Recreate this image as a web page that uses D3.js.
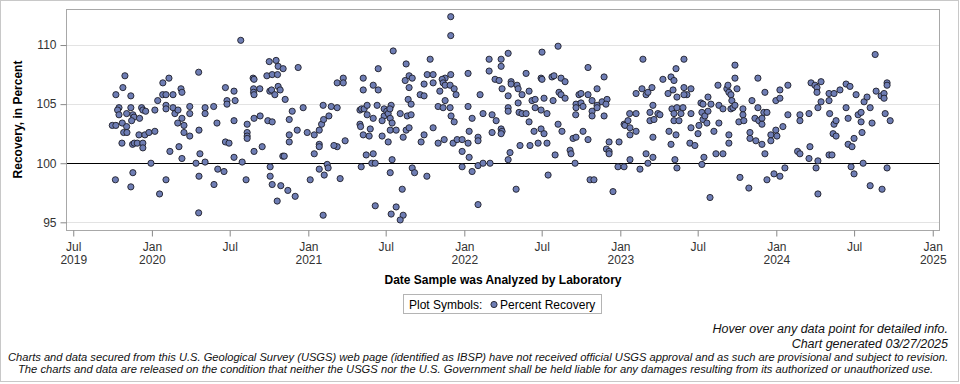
<!DOCTYPE html>
<html>
<head>
<meta charset="utf-8">
<script src="https://cdn.jsdelivr.net/npm/d3@7"></script>
<style>
  body { margin: 0; background: #fff; }
  svg { display: block; font-family: "Liberation Sans", Arial, sans-serif; }
</style>
</head>
<body>
<div id="chart"></div>
<script>
// sample analysis dates, as decimal years
const sampleDates = [
  2019.827, 2019.814, 2019.769, 2019.865, 2019.789, 2019.780, 2019.789, 2019.865, 2019.838, 2019.878,
  2019.934, 2019.942, 2019.960, 2020.019, 2020.037, 2019.885, 2019.921, 2019.870, 2019.746, 2019.769,
  2019.810, 2019.838, 2019.819, 2019.840, 2019.917, 2019.955, 2019.981, 2020.019, 2019.808, 2019.876,
  2019.887, 2019.906, 2019.942, 2019.942, 2019.994, 2019.766, 2019.878, 2019.865, 2020.049,
  2020.070, 2020.109, 2020.069, 2020.090, 2020.135, 2020.186, 2020.192, 2020.090, 2020.090, 2020.135,
  2020.147, 2020.167, 2020.192, 2020.165, 2020.205, 2020.205, 2020.242, 2020.242, 2020.242, 2020.299,
  2020.301, 2020.340, 2020.340, 2020.395, 2020.416, 2020.115, 2020.173, 2020.192, 2020.307, 2020.282,
  2020.340, 2020.421, 2020.090, 2020.301, 2020.397, 2020.299,
  2020.568, 2020.461, 2020.470, 2020.525, 2020.480, 2020.480, 2020.532, 2020.525, 2020.470, 2020.493,
  2020.525, 2020.577, 2020.602, 2020.647, 2020.653, 2020.650, 2020.690, 2020.650, 2020.653, 2020.609,
  2020.609, 2020.609, 2020.609, 2020.653, 2020.692, 2020.653, 2020.705, 2020.750, 2020.794, 2020.807,
  2020.839, 2020.735, 2020.769, 2020.803, 2020.754, 2020.765, 2020.807, 2020.820, 2020.786, 2020.852,
  2020.741, 2020.769, 2020.756, 2020.756, 2020.769, 2020.824, 2020.801, 2020.869, 2020.916, 2020.837,
  2020.846, 2020.878, 2020.897, 2020.878, 2020.878, 2020.929, 2020.935, 2020.967, 2020.993, 2021.038,
  2021.070, 2021.085, 2021.098, 2021.095, 2021.132, 2021.038, 2021.070, 2021.070, 2021.012, 2021.070,
  2021.102, 2021.121, 2021.127, 2021.095,
  2021.147, 2021.185, 2021.185, 2021.224, 2021.224, 2021.185, 2021.164, 2021.236, 2021.204, 2021.352,
  2021.352, 2021.448, 2021.416, 2021.448, 2021.331, 2021.341, 2021.358, 2021.377, 2021.377, 2021.416,
  2021.441, 2021.331, 2021.335, 2021.397, 2021.352, 2021.390, 2021.371, 2021.416, 2021.407, 2021.429,
  2021.339, 2021.429, 2021.544, 2021.486, 2021.486, 2021.503, 2021.512, 2021.531, 2021.523, 2021.525,
  2021.473, 2021.537, 2021.525, 2021.563, 2021.473, 2021.512, 2021.537, 2021.525, 2021.602, 2021.563,
  2021.531, 2021.608, 2021.589, 2021.589, 2021.608, 2021.627, 2021.621, 2021.646, 2021.666, 2021.646,
  2021.640, 2021.659, 2021.634, 2021.659, 2021.627, 2021.646, 2021.666, 2021.681, 2021.781, 2021.762,
  2021.800, 2021.742, 2021.800, 2021.717, 2021.742, 2021.742, 2021.723, 2021.800, 2021.760, 2021.832,
  2021.832, 2021.843,
  2021.913, 2021.913, 2021.913, 2021.877, 2021.858, 2021.864, 2021.877, 2021.909, 2021.935, 2021.947,
  2021.877, 2021.864, 2021.909, 2021.915, 2021.935, 2021.871, 2021.928, 2021.954, 2021.986, 2022.024,
  2021.986, 2022.031, 2021.986, 2022.050, 2022.024, 2022.024, 2022.050, 2022.031, 2022.088, 2022.088,
  2022.088, 2022.120, 2022.165, 2022.088, 2022.101, 2022.120, 2022.159, 2022.159, 2022.197, 2022.223,
  2022.236, 2022.236, 2022.242, 2022.178, 2022.204, 2022.178, 2022.236, 2022.242, 2022.236, 2022.281,
  2022.300, 2022.300, 2022.281, 2022.281, 2022.281, 2022.338, 2022.345, 2022.370, 2022.345, 2022.351,
  2022.370, 2022.396, 2022.396, 2022.415, 2022.415, 2022.293, 2022.281, 2022.357, 2022.332, 2022.421,
  2022.434, 2022.454, 2022.454, 2022.492, 2022.530, 2022.498, 2022.492, 2022.498, 2022.511, 2022.447,
  2022.492, 2022.511, 2022.473, 2022.530, 2022.537,
  2022.562, 2022.575, 2022.601, 2022.620, 2022.646, 2022.607, 2022.620, 2022.646, 2022.569, 2022.601,
  2022.626, 2022.582, 2022.735, 2022.748, 2022.716, 2022.716, 2022.748, 2022.761, 2022.714, 2022.793,
  2022.819, 2022.851, 2022.793, 2022.896, 2022.819, 2022.819, 2022.851, 2022.851, 2022.883, 2022.915,
  2022.908, 2022.896, 2022.761, 2022.793, 2022.697, 2022.716, 2022.678, 2022.684, 2022.710, 2022.806,
  2022.831, 2022.928, 2022.911, 2022.928, 2022.928, 2022.992, 2022.953, 2022.985, 2023.024, 2023.062,
  2023.126, 2023.024, 2023.030, 2023.049, 2023.060, 2023.062, 2023.062, 2023.101, 2023.101, 2023.101,
  2023.145, 2023.139, 2023.165, 2023.177, 2023.203, 2023.209, 2023.190, 2023.190, 2023.216, 2023.241,
  2023.209, 2023.165, 2023.209, 2023.177,
  2023.254, 2023.273, 2023.306, 2023.325, 2023.344, 2023.338, 2023.357, 2023.363, 2023.408, 2023.408,
  2023.427, 2023.408, 2023.453, 2023.331, 2023.344, 2023.344, 2023.363, 2023.376, 2023.389, 2023.402,
  2023.453, 2023.312, 2023.357, 2023.325, 2023.453, 2023.446, 2023.478, 2023.498, 2023.504, 2023.350,
  2023.363, 2023.517, 2023.523, 2023.530, 2023.530, 2023.542, 2023.562, 2023.562, 2023.581, 2023.555,
  2023.600, 2023.632, 2023.536, 2023.523, 2023.613, 2023.658, 2023.575, 2023.626, 2023.632, 2023.658,
  2023.683, 2023.690, 2023.696, 2023.709, 2023.715, 2023.709, 2023.722, 2023.735, 2023.735, 2023.735,
  2023.748, 2023.696, 2023.696, 2023.767, 2023.824, 2023.760, 2023.786, 2023.786, 2023.792, 2023.831,
  2023.831, 2023.844, 2023.869, 2023.863, 2023.882, 2023.882, 2023.888, 2023.908, 2023.920, 2023.940,
  2023.927, 2023.908, 2023.908, 2023.927, 2023.940,
  2023.965, 2023.965, 2023.985, 2024.023, 2023.997, 2024.004, 2024.042, 2023.997, 2024.023, 2024.023,
  2024.074, 2024.074, 2024.055, 2024.151, 2024.151, 2024.209, 2024.136, 2024.151, 2024.215, 2024.209,
  2024.222, 2024.247, 2024.260, 2024.260, 2024.286, 2024.286, 2024.266, 2024.266, 2024.254, 2024.266,
  2024.337, 2024.337, 2024.369, 2024.407, 2024.341, 2024.369, 2024.382, 2024.363, 2024.382, 2024.337,
  2024.356, 2024.446, 2024.471, 2024.510, 2024.446, 2024.459, 2024.459, 2024.484, 2024.497, 2024.478,
  2024.497, 2024.523, 2024.542, 2024.561, 2024.580, 2024.600, 2024.542, 2024.548, 2024.612, 2024.555,
  2024.600, 2024.632, 2024.638, 2024.670, 2024.689, 2024.689, 2024.708, 2024.708, 2024.696, 2024.728,
  2024.708, 2024.676
];

// percent recovery for each sample, same order
const recovery = [
  107.4, 106.4, 105.8, 105.7, 104.7, 104.5, 104.1, 104.7, 104.2, 104.1,
  104.7, 104.5, 104.4, 104.5, 105.3, 103.9, 103.8, 103.6, 103.2, 103.2,
  103.4, 103.1, 102.6, 102.6, 102.4, 102.4, 102.6, 102.7, 101.7, 101.6,
  101.7, 101.7, 101.7, 101.3, 100.0, 98.6, 99.2, 98.0, 97.4,
  106.8, 107.2, 105.8, 105.8, 105.8, 106.3, 106.0, 104.9, 104.6, 104.7,
  104.2, 104.5, 103.8, 103.4, 103.2, 102.6, 104.8, 104.2, 102.3, 107.7,
  102.8, 104.7, 104.2, 104.8, 103.4, 101.0, 101.4, 100.4, 100.8, 100.0,
  100.1, 99.5, 98.6, 98.9, 98.2, 95.8,
  110.4, 99.3, 106.4, 106.1, 105.3, 105.0, 105.3, 103.6, 101.8, 101.7,
  100.5, 100.1, 98.6, 107.2, 107.1, 106.3, 106.3, 106.0, 105.8, 103.3,
  102.6, 102.3, 102.1, 103.8, 104.0, 101.0, 101.4, 108.6, 108.7, 108.2,
  108.0, 107.4, 107.5, 107.5, 106.1, 106.2, 106.5, 106.2, 105.8, 105.4,
  103.6, 103.5, 99.7, 98.9, 98.2, 98.1, 96.8, 97.7, 97.2, 100.6,
  100.6, 103.7, 104.4, 102.4, 101.8, 102.8, 108.1, 104.7, 102.6, 102.4,
  102.8, 103.3, 103.7, 104.9, 104.0, 100.8, 101.6, 101.4, 98.6, 99.5,
  99.0, 99.9, 99.6, 95.6,
  104.8, 104.7, 106.8, 107.2, 106.8, 101.4, 101.5, 101.9, 98.7, 107.2,
  106.2, 108.0, 106.6, 106.2, 104.5, 104.6, 104.6, 104.9, 104.1, 103.8,
  104.9, 103.3, 103.1, 102.9, 102.4, 102.3, 100.7, 100.8, 100.0, 100.0,
  99.7, 96.4, 109.5, 104.6, 104.0, 104.4, 104.2, 104.9, 104.6, 103.8,
  103.6, 103.4, 102.8, 102.8, 102.3, 101.8, 100.3, 99.2, 97.8, 96.3,
  95.7, 95.6, 95.2, 104.2, 102.2, 108.4, 107.0, 107.4, 107.2, 106.4,
  105.4, 105.0, 104.0, 104.1, 102.8, 103.0, 99.6, 99.2, 108.8, 107.5,
  107.5, 106.7, 106.8, 105.8, 105.7, 102.4, 101.8, 103.0, 98.9, 104.8,
  101.7, 106.1,
  112.4, 110.8, 107.5, 107.2, 107.1, 106.8, 106.6, 106.6, 106.3, 105.8,
  105.3, 104.7, 104.7, 104.0, 103.5, 102.0, 101.7, 102.0, 102.0, 101.7,
  101.0, 100.5, 99.7, 99.3, 107.6, 104.8, 103.8, 102.7, 102.2, 101.9,
  99.8, 100.0, 100.0, 96.5, 105.8, 104.2, 108.8, 107.8, 107.1, 107.0,
  108.8, 108.2, 106.3, 104.1, 103.6, 102.6, 102.9, 102.7, 102.5, 109.3,
  106.9, 106.7, 105.7, 104.7, 104.4, 106.6, 106.3, 105.8, 105.1, 104.3,
  104.2, 104.2, 107.6, 106.1, 103.5, 100.9, 100.3, 101.5, 97.8, 101.5,
  105.3, 105.4, 104.7, 104.5, 104.2, 109.4, 107.2, 107.1, 105.5, 102.7,
  102.9, 102.5, 101.7, 101.7, 99.0,
  107.3, 107.4, 109.9, 107.2, 106.9, 106.0, 105.8, 105.5, 105.3, 103.3,
  102.7, 100.7, 105.8, 105.9, 105.0, 104.7, 105.1, 104.8, 104.1, 105.8,
  105.3, 106.3, 108.1, 107.3, 104.4, 104.0, 104.9, 104.7, 105.2, 105.4,
  105.0, 104.0, 102.7, 102.0, 102.1, 102.2, 101.1, 100.8, 100.0, 98.6,
  98.6, 101.8, 101.2, 101.0, 100.8, 101.8, 97.6, 99.7, 99.7, 100.3,
  99.5, 103.3, 103.2, 103.6, 104.2, 103.0, 102.4, 104.2, 102.7, 105.9,
  108.8, 106.3, 105.8, 106.0, 106.4, 104.9, 104.3, 103.6, 103.7, 104.2,
  102.2, 100.8, 100.5, 100.0,
  104.1, 107.1, 105.9, 107.3, 107.0, 106.2, 108.0, 105.6, 108.8, 106.4,
  105.8, 105.8, 106.3, 104.6, 104.2, 103.6, 104.7, 103.6, 104.2, 104.7,
  104.2, 102.7, 102.4, 101.6, 103.0, 101.7, 101.5, 102.5, 103.2, 100.3,
  99.6, 105.1, 104.3, 105.0, 103.7, 104.0, 105.6, 104.4, 105.0, 103.4,
  102.7, 103.4, 100.5, 99.9, 100.8, 100.8, 97.1, 106.6, 104.9, 104.6,
  106.3, 106.6, 106.0, 105.8, 105.3, 104.6, 104.7, 104.9, 108.3, 107.2,
  106.3, 102.4, 101.7, 98.8, 97.9, 103.5, 104.6, 104.1, 103.6, 102.6,
  102.1, 105.3, 101.9, 103.8, 107.2, 104.7, 103.6, 103.8, 104.3, 104.3,
  106.0, 103.3, 101.6, 100.8, 98.6,
  102.4, 101.9, 99.1, 98.9, 102.8, 102.3, 103.1, 105.3, 105.5, 106.2,
  106.6, 104.1, 99.6, 104.1, 103.6, 104.2, 101.0, 100.8, 101.4, 100.4,
  106.8, 106.6, 106.4, 106.0, 106.9, 105.2, 104.7, 100.2, 99.6, 97.4,
  105.9, 105.3, 105.9, 106.2, 104.2, 103.3, 103.6, 102.5, 102.3, 100.7,
  100.7, 106.7, 106.5, 105.8, 104.7, 103.8, 101.6, 101.4, 102.1, 99.7,
  99.1, 104.1, 104.3, 105.2, 105.6, 104.7, 103.5, 102.6, 103.4, 100.0,
  98.1, 109.2, 106.1, 105.7, 105.9, 105.5, 106.8, 106.6, 104.2, 103.6,
  99.6, 97.8
];

const yTicks = [95, 100, 105, 110];
const referenceValue = 100;
const xStart = "2019-06-14";
const xEnd = "2025-01-18";

const width = 960, height = 384;
const plot = { left: 66, right: 940, top: 9, bottom: 230 };

function yearToDate(t) {
  const yr = Math.floor(t);
  const a = new Date(yr, 0, 1), b = new Date(yr + 1, 0, 1);
  return new Date(a.getTime() + (t - yr) * (b - a));
}

const points = sampleDates.map((d, i) => ({ date: yearToDate(d), value: recovery[i] }));

const svg = d3.select("#chart").append("svg")
  .attr("width", width)
  .attr("height", height);

// outer border
svg.append("rect")
  .attr("x", 0.5).attr("y", 0.5)
  .attr("width", 958).attr("height", 381)
  .attr("fill", "#fff").attr("stroke", "#c8c8c8");

const x = d3.scaleTime()
  .domain([d3.timeParse("%Y-%m-%d")(xStart), d3.timeParse("%Y-%m-%d")(xEnd)])
  .range([plot.left, plot.right]);

const y = d3.scaleLinear()
  .domain([94.35, 113.05])
  .range([plot.bottom, plot.top]);

// gridlines
svg.append("g")
  .selectAll("line")
  .data(yTicks)
  .enter().append("line")
  .attr("x1", plot.left).attr("x2", plot.right)
  .attr("y1", d => Math.round(y(d)) + 0.5).attr("y2", d => Math.round(y(d)) + 0.5)
  .attr("stroke", "#e3e3e3");

// reference line at 100
svg.append("line")
  .attr("x1", plot.left).attr("x2", plot.right)
  .attr("y1", Math.round(y(referenceValue)) + 0.5).attr("y2", Math.round(y(referenceValue)) + 0.5)
  .attr("stroke", "#000");

// plot frame
svg.append("rect")
  .attr("x", plot.left + 0.5).attr("y", plot.top + 0.5)
  .attr("width", plot.right - plot.left - 1).attr("height", plot.bottom - plot.top)
  .attr("fill", "none").attr("stroke", "#a8a8a8");

// x axis
const xTickDates = d3.timeMonth.every(6).range(new Date(2019, 6, 1), new Date(2025, 0, 2));
const monthFmt = d3.timeFormat("%b");
const xAxis = svg.append("g")
  .attr("transform", `translate(0,${plot.bottom + 0.5})`)
  .call(d3.axisBottom(x).tickValues(xTickDates).tickSize(6).tickFormat(""));
xAxis.select(".domain").remove();
xAxis.selectAll(".tick line").attr("stroke", "#888");
xAxis.selectAll(".tick").each(function(d, i) {
  const t = d3.select(this).append("text")
    .attr("fill", "#333")
    .attr("y", 20)
    .attr("text-anchor", "middle")
    .style("font-size", "12px");
  t.append("tspan").attr("x", 0).text(monthFmt(d));
  if (i === 0 || d.getMonth() === 0) {
    t.append("tspan").attr("x", 0).attr("dy", 13).text(d.getFullYear());
  }
});

// y axis
const yAxis = svg.append("g")
  .attr("transform", `translate(${plot.left + 0.5},0)`)
  .call(d3.axisLeft(y).tickValues(yTicks).tickSize(6).tickPadding(4));
yAxis.select(".domain").remove();
yAxis.selectAll(".tick line").attr("stroke", "#888");
yAxis.selectAll(".tick text").attr("fill", "#333").style("font-size", "12px");

// axis titles
svg.append("text")
  .attr("transform", `translate(22,${(plot.top + plot.bottom) / 2}) rotate(-90)`)
  .attr("text-anchor", "middle")
  .style("font-size", "12px").style("font-weight", "bold")
  .text("Recovery, in Percent");

svg.append("text")
  .attr("x", (plot.left + plot.right) / 2).attr("y", 284)
  .attr("text-anchor", "middle")
  .style("font-size", "12px").style("font-weight", "bold")
  .text("Date Sample was Analyzed by Laboratory");

// points
svg.append("g")
  .selectAll("circle")
  .data(points)
  .enter().append("circle")
  .attr("cx", d => x(d.date))
  .attr("cy", d => y(d.value))
  .attr("r", 3.1)
  .attr("fill", "#6e7db4")
  .attr("stroke", "#1e1e28")
  .attr("stroke-width", 0.9);

// legend
const legend = svg.append("g");
legend.append("rect")
  .attr("x", 403.5).attr("y", 294.5).attr("width", 198).attr("height", 19)
  .attr("fill", "#fff").attr("stroke", "#b4b4b4");
legend.append("text")
  .attr("x", 409).attr("y", 308.5)
  .style("font-size", "12px")
  .text("Plot Symbols:");
legend.append("circle")
  .attr("cx", 494).attr("cy", 304.5).attr("r", 3.1)
  .attr("fill", "#6e7db4").attr("stroke", "#1e1e28").attr("stroke-width", 0.9);
legend.append("text")
  .attr("x", 500).attr("y", 308.5)
  .style("font-size", "12px")
  .text("Percent Recovery");

// footer notes
const foot = svg.append("g").style("font-style", "italic").attr("fill", "#111");
foot.append("text")
  .attr("x", 948).attr("y", 332.5).attr("text-anchor", "end")
  .style("font-size", "12.5px")
  .text("Hover over any data point for detailed info.");
foot.append("text")
  .attr("x", 948).attr("y", 347.5).attr("text-anchor", "end")
  .style("font-size", "12.5px")
  .text("Chart generated 03/27/2025");
foot.append("text")
  .attr("x", 8).attr("y", 360.5)
  .attr("textLength", 940).attr("lengthAdjust", "spacingAndGlyphs")
  .style("font-size", "11px")
  .style("font-family", "'Liberation Sans Narrow', 'Liberation Sans', Arial, sans-serif")
  .text("Charts and data secured from this U.S. Geological Survey (USGS) web page (identified as IBSP) have not received official USGS approval and as such are provisional and subject to revision.");
foot.append("text")
  .attr("x", 18).attr("y", 372.5)
  .attr("textLength", 915).attr("lengthAdjust", "spacingAndGlyphs")
  .style("font-size", "11px")
  .style("font-family", "'Liberation Sans Narrow', 'Liberation Sans', Arial, sans-serif")
  .text("The charts and data are released on the condition that neither the USGS nor the U.S. Government shall be held liable for any damages resulting from its authorized or unauthorized use.");
</script>
</body>
</html>
